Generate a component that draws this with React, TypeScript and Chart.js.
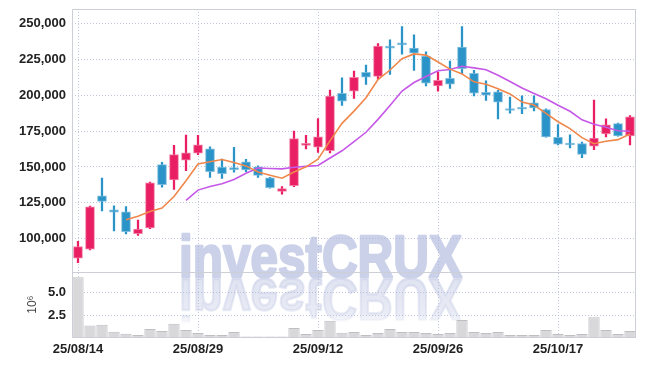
import React, { useEffect, useRef } from 'react';
import { Chart, registerables } from 'chart.js';

Chart.register(...registerables);

const dates = [
  '25/08/14', '25/08/18', '25/08/19', '25/08/20', '25/08/21', '25/08/22', '25/08/25', '25/08/26', '25/08/27', '25/08/28',
  '25/08/29', '25/09/01', '25/09/02', '25/09/03', '25/09/04', '25/09/05', '25/09/08', '25/09/09', '25/09/10', '25/09/11',
  '25/09/12', '25/09/15', '25/09/16', '25/09/17', '25/09/18', '25/09/19', '25/09/22', '25/09/23', '25/09/24', '25/09/25',
  '25/09/26', '25/09/29', '25/09/30', '25/10/01', '25/10/02', '25/10/10', '25/10/13', '25/10/14', '25/10/15', '25/10/16',
  '25/10/17', '25/10/20', '25/10/21', '25/10/22', '25/10/23', '25/10/24', '25/10/27',
];
const shownDates = ['25/08/14', '25/08/29', '25/09/12', '25/09/26', '25/10/17'];

const openPrices = [
  86500, 92800, 129900, 120100, 118700, 103500, 107500, 151600, 140900, 154700,
  159600, 162600, 149900, 149400, 153600, 150100, 142400, 133000, 137000, 165000,
  163700, 161400, 201200, 202800, 215900, 213100, 233400, 235700, 232700, 227300,
  206500, 211700, 233400, 215200, 201900, 202300, 190000, 191400, 194600, 190000,
  170700, 166500, 166300, 164400, 173000, 180200, 171600,
];
const highPrices = [
  98300, 122800, 142300, 122900, 122400, 113100, 139500, 153300, 165000, 172200,
  172000, 164000, 155500, 163700, 155300, 150800, 142800, 136300, 175000, 172000,
  183700, 203500, 212100, 216800, 221000, 236000, 238600, 247700, 242100, 230100,
  216100, 223800, 247700, 217300, 210000, 203300, 198600, 199500, 199500, 190500,
  179500, 172300, 167400, 196500, 183500, 180500, 185800,
];
const lowPrices = [
  83300, 92300, 119400, 105400, 103300, 102300, 107000, 136000, 134300, 147400,
  158600, 142800, 142100, 146400, 146800, 142800, 135200, 131100, 136300, 162500,
  160200, 159800, 192800, 197700, 207500, 211200, 214500, 228500, 217300, 206500,
  202800, 204700, 215000, 199500, 196300, 183400, 187400, 187100, 189000, 170800,
  165300, 163300, 156500, 162100, 170900, 171400, 165300,
];
const closePrices = [
  94600, 122300, 126000, 118500, 104900, 106800, 139000, 137600, 158600, 159800,
  165400, 146800, 145400, 148200, 148000, 144200, 135600, 134900, 169800, 166000,
  171000, 199300, 195800, 212400, 212600, 234100, 232700, 235000, 229200, 208400,
  210300, 207700, 218500, 201400, 200000, 195100, 189300, 190200, 191100, 171000,
  165800, 165300, 158800, 170200, 179300, 171600, 184900,
];
const ma5 = [
  null, null, null, null, 113260, 115700, 119040, 121360, 129380, 140360,
  152080, 153640, 155200, 153120, 150760, 146520, 144280, 142180, 146500, 150100,
  155460, 168200, 180380, 188900, 198220, 210840, 217520, 225360, 228720, 227880,
  223120, 218120, 214820, 209260, 207580, 204540, 200860, 195200, 193140, 187340,
  181480, 176680, 170400, 166220, 167880, 169040, 172960,
];
const ma10 = [
  null, null, null, null, null, null, null, null, null, 126810,
  133890, 136340, 138280, 141250, 145560, 149300, 148960, 148690, 149810, 150430,
  150990, 156240, 161280, 167700, 174160, 183150, 192860, 202870, 208810, 213050,
  216980, 217820, 220090, 218990, 217730, 213830, 209490, 205010, 201200, 197460,
  193010, 188770, 182800, 179680, 177610, 175260, 174820,
];
// volume in millions of shares
const volumes = [
  6.74, 1.33, 1.44, 0.64, 0.42, 0.27, 0.95, 0.72, 1.55, 0.83,
  0.49, 0.27, 0.27, 0.61, 0.11, 0.11, 0.11, 0.11, 1.06, 0.38,
  0.83, 1.86, 0.53, 0.61, 0.27, 0.49, 0.95, 0.61, 0.61, 0.49,
  0.38, 0.49, 1.97, 0.61, 0.49, 0.61, 0.27, 0.27, 0.27, 0.83,
  0.38, 0.27, 0.38, 2.27, 0.83, 0.38, 0.72,
];
const priceTicks = [100000, 125000, 150000, 175000, 200000, 225000, 250000];
const volumeTicks = [2.5, 5.0];

const UP = 'rgb(233, 30, 99)';
const UP_EDGE = 'rgba(240, 120, 160, 0.9)';
const DOWN = 'rgb(42, 148, 200)';
const DOWN_EDGE = 'rgba(120, 185, 220, 0.9)';
const GRID = 'rgba(175, 180, 210, 0.75)';
const FRAME = 'rgb(205, 207, 215)';
const TICK_FONT = { family: '"Liberation Sans Narrow", "Liberation Sans", sans-serif', size: 13, weight: 'bold' };

const watermarkPlugin = {
  id: 'watermark',
  beforeDraw(chart: any) {
    const ctx = chart.ctx;
    const text = 'investCRUX';
    ctx.save();
    ctx.font = 'bold 60px "Liberation Sans", Arial, sans-serif';
    const w = ctx.measureText(text).width;
    const sx = 283 / w;
    ctx.translate(179, 277);
    ctx.scale(sx, 1);
    ctx.textBaseline = 'alphabetic';
    ctx.lineJoin = 'round';
    ctx.fillStyle = 'rgb(203, 209, 232)';
    ctx.strokeStyle = 'rgb(203, 209, 232)';
    ctx.lineWidth = 2.5;
    ctx.fillText(text, 0, 0);
    ctx.strokeText(text, 0, 0);
    ctx.scale(1, -1);
    const g = ctx.createLinearGradient(0, -2, 0, -48);
    g.addColorStop(0, 'rgba(203, 209, 232, 0.6)');
    g.addColorStop(0.75, 'rgba(203, 209, 232, 0.42)');
    g.addColorStop(1, 'rgba(203, 209, 232, 0)');
    ctx.fillStyle = g;
    ctx.strokeStyle = g;
    ctx.fillText(text, 0, -2);
    ctx.strokeText(text, 0, -2);
    ctx.restore();
  },
};

const framePlugin = {
  id: 'frame',
  afterDraw(chart: any) {
    const ctx = chart.ctx;
    const { left, right } = chart.chartArea;
    const y = chart.scales.y;
    const v = chart.scales.yVol;
    ctx.save();
    ctx.strokeStyle = FRAME;
    ctx.lineWidth = 1;
    ctx.strokeRect(Math.round(left) + 0.5, Math.round(y.top) + 0.5, Math.round(right - left) - 1, Math.round(y.bottom - y.top));
    ctx.strokeRect(Math.round(left) + 0.5, Math.round(v.top) + 0.5, Math.round(right - left) - 1, Math.round(v.bottom - v.top) - 1);
    ctx.restore();
  },
};

const fitY = (s: any) => {
  s.width = 72;
  s.paddingTop = 0;
  s.paddingBottom = 0;
};

export default function App() {
  const ref = useRef<HTMLCanvasElement>(null);

  useEffect(() => {
    if (!ref.current) return;
    const up = closePrices.map((c, i) => c >= openPrices[i]);
    const chart = new Chart(ref.current, {
      type: 'bar',
      data: {
        labels: dates,
        datasets: [
          {
            type: 'line',
            label: 'MA5',
            data: ma5,
            yAxisID: 'y',
            borderColor: 'rgb(240, 135, 75)',
            borderWidth: 1.6,
            pointRadius: 0,
            tension: 0,
          } as any,
          {
            type: 'line',
            label: 'MA10',
            data: ma10,
            yAxisID: 'y',
            borderColor: 'rgb(198, 88, 232)',
            borderWidth: 1.6,
            pointRadius: 0,
            tension: 0,
          } as any,
          {
            type: 'bar',
            label: 'body',
            data: openPrices.map((o, i) => [o, closePrices[i]]),
            yAxisID: 'y',
            backgroundColor: up.map((u) => (u ? UP : DOWN)),
            borderColor: up.map((u) => (u ? UP_EDGE : DOWN_EDGE)),
            borderWidth: 1,
            borderSkipped: false,
            barThickness: 9,
            grouped: false,
            minBarLength: 2,
          } as any,
          {
            type: 'bar',
            label: 'wick',
            data: lowPrices.map((l, i) => [l, highPrices[i]]),
            yAxisID: 'y',
            backgroundColor: up.map((u) => (u ? UP : DOWN)),
            borderWidth: 0,
            barThickness: 1.6,
            grouped: false,
          } as any,
          {
            type: 'bar',
            label: 'volume',
            data: volumes,
            yAxisID: 'yVol',
            backgroundColor: 'rgb(216, 216, 219)',
            borderColor: 'rgb(190, 190, 195)',
            borderWidth: 1,
            borderSkipped: 'bottom',
            barPercentage: 1,
            categoryPercentage: 0.94,
            grouped: false,
          } as any,
        ],
      },
      options: {
        responsive: false,
        animation: false,
        layout: { padding: { top: 9, right: 9, left: 0, bottom: 0 } },
        plugins: { legend: { display: false }, tooltip: { enabled: false } },
        scales: {
          x: {
            type: 'category',
            offset: true,
            grid: {
              offset: false,
              drawTicks: false,
              color: (c: any) => (shownDates.includes(dates[c.index]) ? GRID : 'rgba(0,0,0,0)'),
            },
            border: { display: false, dash: [1, 2] },
            ticks: {
              autoSkip: false,
              maxRotation: 0,
              minRotation: 0,
              padding: 4,
              color: '#222',
              font: TICK_FONT,
              callback: (_v: any, i: number) => (shownDates.includes(dates[i]) ? dates[i] : ''),
            },
            afterFit: (s: any) => { s.height = 28.5; s.paddingLeft = 0; s.paddingRight = 0; },
          },
          yVol: {
            type: 'linear',
            position: 'left',
            stack: 'main',
            stackWeight: 1,
            min: 0,
            max: 7.35,
            afterBuildTicks: (s: any) => { s.ticks = volumeTicks.map((v) => ({ value: v })); },
            grid: { drawTicks: false, color: GRID },
            border: { display: false, dash: [1, 2] },
            ticks: {
              padding: 6,
              color: '#222',
              font: TICK_FONT,
              callback: (v: any) => Number(v).toFixed(1),
            },
            title: {
              display: true,
              text: '10⁶',
              color: '#444',
              font: { family: '"Liberation Sans", sans-serif', size: 12 },
              padding: { top: 25, bottom: 0 },
            },
            afterFit: fitY,
          },
          y: {
            type: 'linear',
            position: 'left',
            stack: 'main',
            stackWeight: 4,
            min: 77000,
            max: 260000,
            afterBuildTicks: (s: any) => { s.ticks = priceTicks.map((v) => ({ value: v })); },
            grid: { drawTicks: false, color: GRID },
            border: { display: false, dash: [1, 2] },
            ticks: {
              padding: 6,
              color: '#222',
              font: TICK_FONT,
              callback: (v: any) => Number(v).toLocaleString('en-US'),
            },
            afterFit: fitY,
          },
        },
      } as any,
      plugins: [watermarkPlugin, framePlugin],
    });
    return () => chart.destroy();
  }, []);

  return (
    <div style={{ position: 'absolute', left: 0, top: 0, width: 645, height: 366, background: '#fff' }}>
      <canvas ref={ref} width={645} height={366} style={{ display: 'block' }} />
    </div>
  );
}
